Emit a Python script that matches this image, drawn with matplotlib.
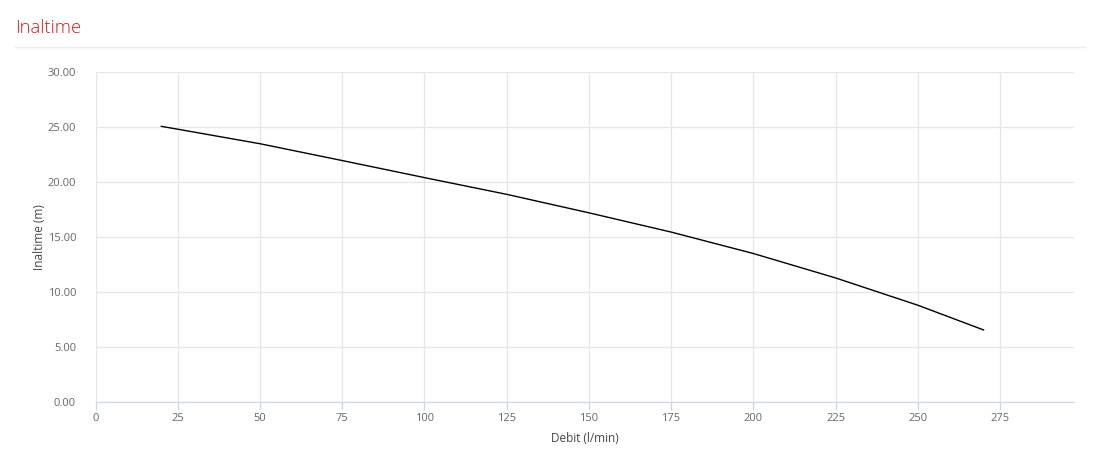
import matplotlib.pyplot as plt
from matplotlib.lines import Line2D

plt.rcParams['font.family'] = ['Open Sans', 'DejaVu Sans']

# debit (l/min) vs inaltime (m)
debit = [20, 25, 50, 75, 100, 125, 150, 175, 200, 225, 250, 270]
inaltime = [25.06, 24.8, 23.48, 21.95, 20.4, 18.88, 17.2, 15.45, 13.5, 11.28, 8.8, 6.55]

xticks = [0, 25, 50, 75, 100, 125, 150, 175, 200, 225, 250, 275]
yticks = [0, 5, 10, 15, 20, 25, 30]

W, H = 1100, 474
fig = plt.figure(figsize=(W / 100, H / 100), dpi=100)
ax = fig.add_axes([95.5 / W, 1 - 402 / H, (1074 - 95.5) / W, (402 - 72) / H])

ax.plot(debit, inaltime, color='black', lw=1.0)

ax.set_xlim(0, 297.5)
ax.set_ylim(0, 30)
ax.set_xticks(xticks)
ax.set_yticks(yticks)
ax.set_yticklabels([f'{v:.2f}' for v in yticks])
ax.grid(True, color='#e6e6e6', lw=0.9)
ax.set_axisbelow(True)
for s in ['top', 'right', 'left']:
    ax.spines[s].set_visible(False)
ax.spines['bottom'].set_color('#ccd6eb')
ax.tick_params(axis='x', colors='#ccd6eb', length=6, width=0.9, labelcolor='#666666', labelsize=8, pad=2)
ax.tick_params(axis='y', length=0, labelcolor='#666666', labelsize=8, pad=14)
ax.set_xlabel('Debit (l/min)', color='#444444', fontsize=8.5, labelpad=6)
ax.set_ylabel('Inaltime (m)', color='#444444', fontsize=8.5, labelpad=1)

fig.text(15 / W, 1 - 28 / H, 'Inaltime', color='#d91a1a', fontsize=13.2, weight='light', va='center', ha='left')
fig.add_artist(Line2D([15 / W, 1085 / W], [1 - 47 / H, 1 - 47 / H], color='#eeeeee', lw=1))

fig.savefig('out.png', dpi=100)
